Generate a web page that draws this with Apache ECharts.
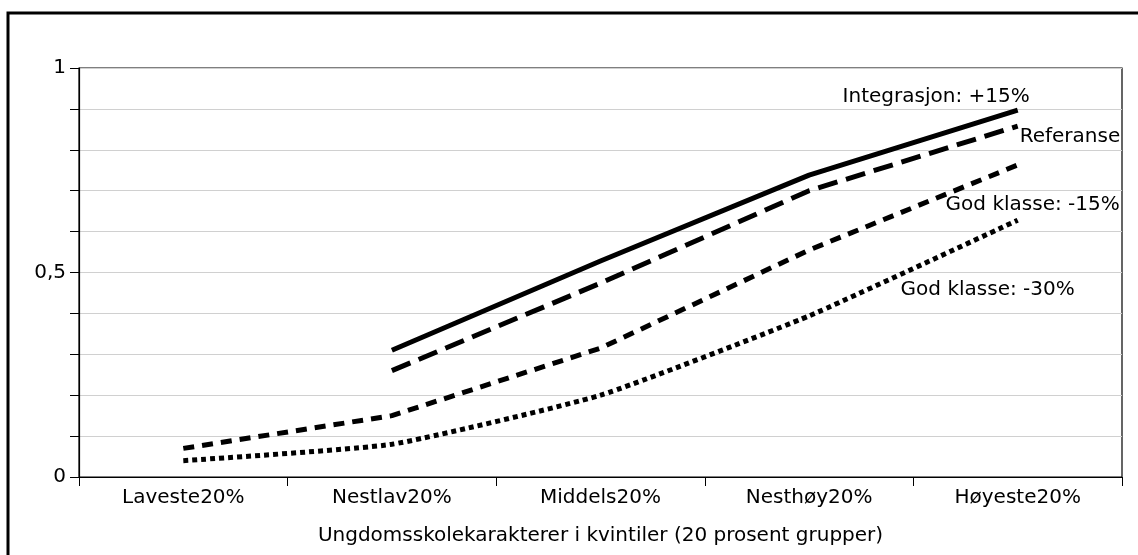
<!DOCTYPE html>
<html>
<head>
<meta charset="utf-8">
<script src="https://cdn.jsdelivr.net/npm/echarts@6/dist/echarts.min.js"></script>
<style>
html,body{margin:0;padding:0;background:#fff;}
#c{width:1138px;height:555px;}
</style>
</head>
<body>
<div id="c"></div>
<script>
const categories = ['Laveste20%', 'Nestlav20%', 'Middels20%', 'Nesthøy20%', 'Høyeste20%'];
const integrasjon = [null, 0.31, 0.528, 0.738, 0.897];
const referanse = [null, 0.26, 0.474, 0.70, 0.858];
const godKlasse15 = [0.07, 0.15, 0.315, 0.555, 0.763];
const godKlasse30 = [0.04, 0.08, 0.20, 0.394, 0.628];
const seriesNames = ['Integrasjon: +15%', 'Referanse', 'God klasse: -15%', 'God klasse: -30%'];
const xAxisTitle = 'Ungdomsskolekarakterer i kvintiler (20 prosent grupper)';
const topNote = '(Prosent)';

const FONT = '"DejaVu Sans", "Open Sans", sans-serif';
const FS = 20;
const chart = echarts.init(document.getElementById('c'), null, {renderer: 'canvas'});

function endLbl(text, align, dx, dy) {
  return {
    show: true, formatter: text, distance: 0, align: align,
    verticalAlign: 'middle', offset: [dx, dy],
    color: '#000', fontSize: FS, fontFamily: FONT
  };
}

chart.setOption({
  animation: false,
  backgroundColor: '#fff',
  textStyle: {fontFamily: FONT},
  graphic: [
    {type: 'rect', shape: {x: 8, y: 13, width: 1150, height: 560},
     style: {fill: 'none', stroke: '#000', lineWidth: 3}, z: 0},
    {type: 'text', left: 10, top: -18,
     style: {text: topNote, fontSize: FS, fontFamily: FONT, fill: '#000'}}
  ],
  grid: {left: 79, top: 68, right: 16, bottom: 78, show: true,
         borderColor: '#000', borderWidth: 1.2, backgroundColor: 'transparent'},
  xAxis: {
    type: 'category', data: categories, boundaryGap: true,
    axisLine: {lineStyle: {color: '#000', width: 1.2}},
    axisTick: {show: true, length: 9, lineStyle: {color: '#000'}},
    axisLabel: {color: '#000', fontSize: FS, fontFamily: FONT, margin: 11},
    name: xAxisTitle, nameLocation: 'middle', nameGap: 49,
    nameTextStyle: {color: '#000', fontSize: FS, fontFamily: FONT}
  },
  yAxis: {
    type: 'value', min: 0, max: 1, interval: 0.1,
    axisLine: {show: true, lineStyle: {color: '#000', width: 1.2}},
    axisTick: {show: true, length: 9, lineStyle: {color: '#000'}},
    splitLine: {lineStyle: {color: '#d0d0d0', width: 1.2}},
    axisLabel: {
      color: '#000', fontSize: FS, fontFamily: FONT, margin: 13,
      formatter: v => {
        const r = Math.round(v * 10) / 10;
        if (r === 0) return '0';
        if (r === 0.5) return '0,5';
        if (r === 1) return '1';
        return '';
      }
    }
  },
  series: [
    {name: seriesNames[0], type: 'line', symbol: 'none', data: integrasjon,
     endLabel: endLbl(seriesNames[0], 'right', 12, -13),
     lineStyle: {color: '#000', width: 5, type: 'solid'}},
    {name: seriesNames[1], type: 'line', symbol: 'none', data: referanse,
     endLabel: endLbl(seriesNames[1], 'left', 2, 11),
     lineStyle: {color: '#000', width: 5, type: [20, 9], cap: 'butt'}},
    {name: seriesNames[2], type: 'line', symbol: 'none', data: godKlasse15,
     endLabel: endLbl(seriesNames[2], 'right', 102, 40),
     lineStyle: {color: '#000', width: 5, type: [11, 8], cap: 'butt'}},
    {name: seriesNames[3], type: 'line', symbol: 'none', smooth: 0.15, data: godKlasse30,
     endLabel: endLbl(seriesNames[3], 'right', 57, 70),
     lineStyle: {color: '#000', width: 5, type: [5, 4], cap: 'butt'}}
  ]
});
</script>
</body>
</html>
